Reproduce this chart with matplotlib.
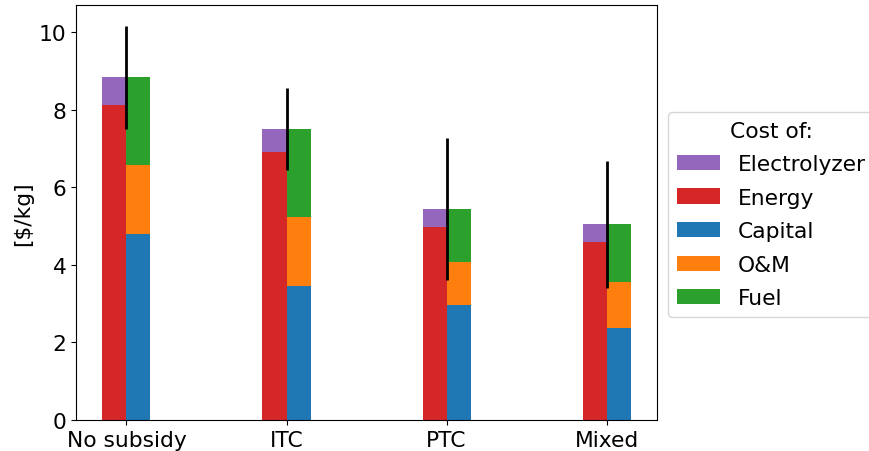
import matplotlib
matplotlib.use("Agg")
import matplotlib.pyplot as plt
import numpy as np

scenarios = ["No subsidy", "ITC", "PTC", "Mixed"]
total = [8.84, 7.50, 5.44, 5.05]
energy = [8.12, 6.90, 4.97, 4.59]
capital = [4.79, 3.45, 2.96, 2.37]
om = [1.78, 1.78, 1.11, 1.19]
err = [1.33, 1.06, 1.83, 1.64]

electrolyzer = [t - e for t, e in zip(total, energy)]
fuel = [t - c - o for t, c, o in zip(total, capital, om)]

FS = 15.7
plt.rcParams['font.size'] = FS

fig = plt.figure(figsize=(8.7, 4.52), dpi=100)
ax = fig.add_axes([0.0874, 0.0686, 0.6678, 0.918])

x = np.arange(len(scenarios))
w = 0.15
cols = {"Electrolyzer": "tab:purple", "Energy": "tab:red", "Capital": "tab:blue",
        "O&M": "tab:orange", "Fuel": "tab:green"}

h_en = ax.bar(x - w / 2, energy, w, color=cols["Energy"], label="Energy")
h_el = ax.bar(x - w / 2, electrolyzer, w, bottom=energy, color=cols["Electrolyzer"], label="Electrolyzer")
h_ca = ax.bar(x + w / 2, capital, w, color=cols["Capital"], label="Capital")
h_om = ax.bar(x + w / 2, om, w, bottom=capital, color=cols["O&M"], label="O&M")
bot = [c + o for c, o in zip(capital, om)]
h_fu = ax.bar(x + w / 2, fuel, w, bottom=bot, color=cols["Fuel"], label="Fuel")
ax.errorbar(x, total, yerr=err, fmt='none', ecolor='black', elinewidth=2, capsize=0)

ax.set_xticks(x)
ax.set_xticklabels(scenarios)
ax.set_ylim(0, 10.7)
ax.set_yticks([0, 2, 4, 6, 8, 10])
ax.set_ylabel("[\\$/kg]")

fig.legend(handles=[h_el, h_en, h_ca, h_om, h_fu],
           labels=["Electrolyzer", "Energy", "Capital", "O&M", "Fuel"],
           title="Cost of:", loc="upper left", bbox_to_anchor=(0.768, 0.75),
           borderaxespad=0, fontsize=FS, title_fontsize=FS, labelspacing=0.62)

fig.savefig("out.png", dpi=100)
